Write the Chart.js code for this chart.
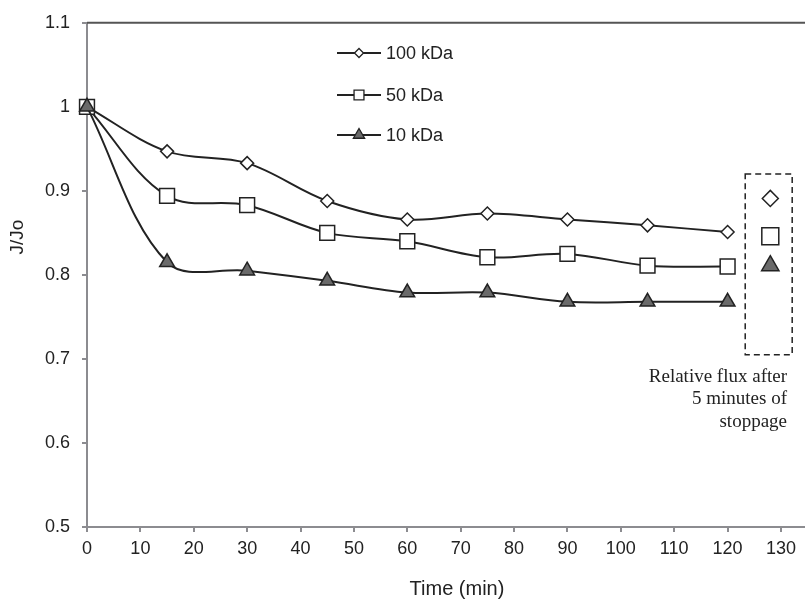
<!DOCTYPE html>
<html>
<head>
<meta charset="utf-8">
<title>J/Jo vs time</title>
<script src="https://cdn.jsdelivr.net/npm/chart.js@4/dist/chart.umd.min.js"></script>
<style>
  html, body { margin: 0; padding: 0; background: #fff; }
  #wrap { width: 805px; height: 600px; }
</style>
</head>
<body>
<div id="wrap"><canvas id="grafico" width="805" height="600"></canvas></div>
<script>
// tempos de coleta (min)
const tempos = [0, 15, 30, 45, 60, 75, 90, 105, 120];

// fluxo relativo J/Jo de cada membrana
const fluxo100 = [1.0, 0.947, 0.933, 0.888, 0.866, 0.873, 0.866, 0.859, 0.851];
const fluxo50 = [1.0, 0.894, 0.883, 0.850, 0.840, 0.821, 0.825, 0.811, 0.810];
const fluxo10 = [1.0, 0.815, 0.805, 0.793, 0.779, 0.779, 0.768, 0.768, 0.768];

// fluxo relativo depois de 5 minutos parado
const tempoParada = 128;
const parada100 = 0.891;
const parada50 = 0.846;
const parada10 = 0.811;

const ticksY = [0.5, 0.6, 0.7, 0.8, 0.9, 1, 1.1];
const ticksX = [0, 10, 20, 30, 40, 50, 60, 70, 80, 90, 100, 110, 120, 130];

const nomes = ['100 kDa', '50 kDa', '10 kDa'];
const notaParada = ['Relative flux after', '5 minutes of', 'stoppage'];

const corLinha = '#222';
const corEixo = '#8c8c90';
const fonteSans = 'Liberation Sans, Arial, sans-serif';

// estilo de marcador por serie (ordem: triangulo fica por cima)
const estilos = [
    { pointStyle: 'rectRot', radius: 6.5, fill: '#fff', legendRadius: 4.5, stopRadius: 8, order: 3 },
    { pointStyle: 'rect', radius: 10.5, fill: '#fff', legendRadius: 7, stopRadius: 12, order: 2 },
    { pointStyle: 'triangle', radius: 8.5, fill: '#6a6a6a', legendRadius: 6.5, stopRadius: 10, order: 1 }
];

function pares(xs, ys) {
    return xs.map((x, i) => ({ x: x, y: ys[i] }));
}

function serie(nome, valores, est) {
    return {
        label: nome,
        data: pares(tempos, valores),
        order: est.order,
        borderColor: corLinha,
        borderWidth: 2,
        tension: 0.35,
        clip: false,
        pointStyle: est.pointStyle,
        pointRadius: est.radius,
        pointBackgroundColor: est.fill,
        pointBorderColor: corLinha,
        pointBorderWidth: 1.5,
        fill: false
    };
}

function pontoParada(valor, est) {
    return {
        label: '',
        data: [{ x: tempoParada, y: valor }],
        showLine: false,
        clip: false,
        pointStyle: est.pointStyle,
        pointRadius: est.stopRadius,
        pointBackgroundColor: est.fill,
        pointBorderColor: corLinha,
        pointBorderWidth: 1.5
    };
}

// desenha borda de cima, legenda, caixa tracejada e titulos dos eixos
const extras = {
    id: 'extras',
    afterDraw(chart) {
        const ctx = chart.ctx;
        const area = chart.chartArea;
        const x = chart.scales.x;
        const y = chart.scales.y;
        ctx.save();

        // linha superior
        ctx.strokeStyle = '#555';
        ctx.lineWidth = 2;
        ctx.beginPath();
        ctx.moveTo(area.left, area.top);
        ctx.lineTo(area.right, area.top);
        ctx.stroke();

        // legenda
        ctx.font = '18px ' + fonteSans;
        ctx.textBaseline = 'middle';
        ctx.fillStyle = '#222';
        const linhasLeg = [53, 95, 135];
        for (let i = 0; i < nomes.length; i++) {
            const ly = linhasLeg[i];
            ctx.strokeStyle = corLinha;
            ctx.lineWidth = 2;
            ctx.beginPath();
            ctx.moveTo(337, ly);
            ctx.lineTo(381, ly);
            ctx.stroke();
            ctx.fillStyle = estilos[i].fill;
            ctx.lineWidth = 1.3;
            Chart.helpers.drawPoint(ctx, {
                pointStyle: estilos[i].pointStyle,
                radius: estilos[i].legendRadius,
                rotation: 0,
                borderWidth: 1.3
            }, 359, ly);
            ctx.fillStyle = '#222';
            ctx.textAlign = 'left';
            ctx.fillText(nomes[i], 386, ly + 1);
        }

        // caixa tracejada em volta dos pontos de parada
        const bx0 = x.getPixelForValue(123.3);
        const bx1 = x.getPixelForValue(132.1);
        const by0 = y.getPixelForValue(0.92);
        const by1 = y.getPixelForValue(0.705);
        ctx.strokeStyle = '#222';
        ctx.lineWidth = 1.5;
        ctx.setLineDash([6, 4]);
        ctx.strokeRect(bx0, by0, bx1 - bx0, by1 - by0);
        ctx.setLineDash([]);

        // nota da caixa
        ctx.font = '19px Liberation Serif, Times New Roman, serif';
        ctx.textAlign = 'right';
        ctx.fillStyle = '#222';
        notaParada.forEach((t, i) => ctx.fillText(t, 787, 377 + i * 22.5));

        // titulo do eixo x
        ctx.font = '20px ' + fonteSans;
        ctx.textAlign = 'center';
        ctx.fillText('Time (min)', 457, 589);

        // titulo do eixo y
        ctx.font = '19px ' + fonteSans;
        ctx.translate(18, 237);
        ctx.rotate(-Math.PI / 2);
        ctx.fillText('J/Jo', 0, 0);
        ctx.restore();
    }
};

const grafico = new Chart(document.getElementById('grafico'), {
    type: 'line',
    data: {
        datasets: [
            serie(nomes[0], fluxo100, estilos[0]),
            serie(nomes[1], fluxo50, estilos[1]),
            serie(nomes[2], fluxo10, estilos[2]),
            pontoParada(parada100, estilos[0]),
            pontoParada(parada50, estilos[1]),
            pontoParada(parada10, estilos[2])
        ]
    },
    options: {
        responsive: false,
        animation: false,
        events: [],
        layout: { autoPadding: false, padding: { top: 20, right: 0, left: 0, bottom: 0 } },
        plugins: {
            legend: { display: false },
            tooltip: { enabled: false }
        },
        scales: {
            x: {
                type: 'linear',
                min: 0,
                max: 134.5,
                afterFit(scale) { scale.height = 73; },
                afterBuildTicks(scale) { scale.ticks = ticksX.map(v => ({ value: v })); },
                ticks: {
                    padding: 6,
                    color: '#222',
                    font: { size: 18, family: fonteSans }
                },
                grid: {
                    drawOnChartArea: false,
                    drawTicks: true,
                    tickLength: 5,
                    color: corEixo,
                    lineWidth: 2
                },
                border: { color: corEixo, width: 2 }
            },
            y: {
                min: 0.5,
                max: 1.1,
                afterFit(scale) { scale.width = 87; },
                afterBuildTicks(scale) { scale.ticks = ticksY.map(v => ({ value: v })); },
                ticks: {
                    padding: 12,
                    color: '#222',
                    font: { size: 18, family: fonteSans },
                    callback: v => String(Math.round(v * 10) / 10)
                },
                grid: {
                    drawOnChartArea: false,
                    drawTicks: true,
                    tickLength: 5,
                    color: corEixo,
                    lineWidth: 2
                },
                border: { color: corEixo, width: 2 }
            }
        }
    },
    plugins: [extras]
});
</script>
</body>
</html>
